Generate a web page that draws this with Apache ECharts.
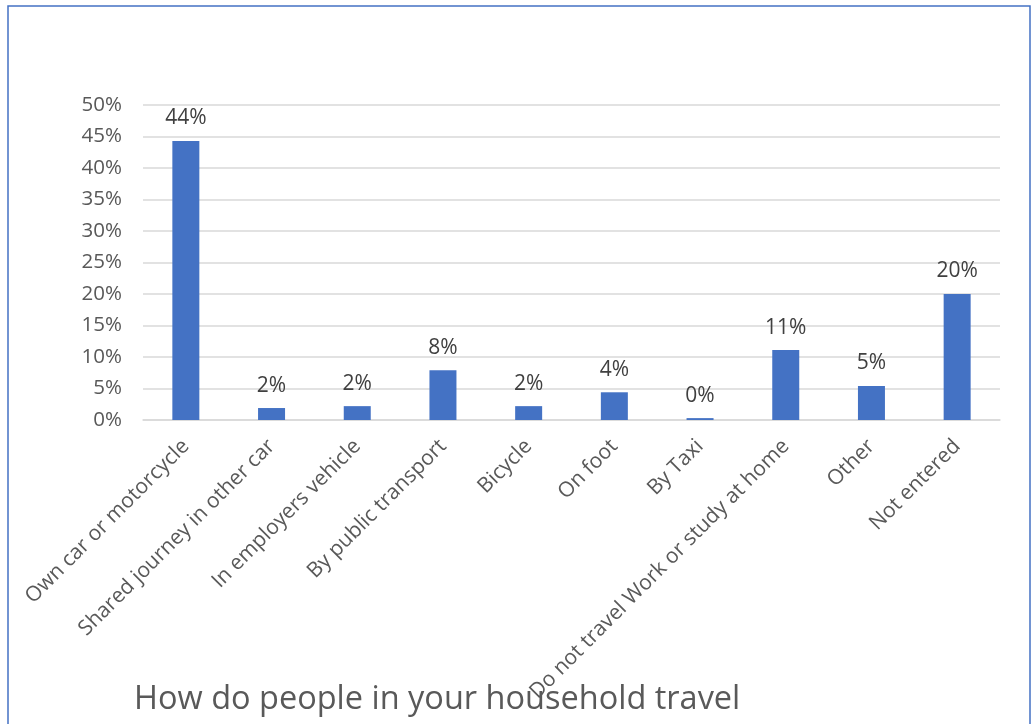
<!DOCTYPE html>
<html>
<head>
<meta charset="utf-8">
<script src="https://cdn.jsdelivr.net/npm/echarts@6/dist/echarts.min.js"></script>
<style>
html,body{margin:0;padding:0;background:#fff;}
#chart{width:1032px;height:724px;}
</style>
</head>
<body>
<div id="chart"></div>
<script>
const categories = ["Own car or motorcycle","Shared journey in other car","In employers vehicle","By public transport","Bicycle","On foot","By Taxi","Do not travel Work or study at home","Other","Not entered"];
const values = [44.3, 1.9, 2.2, 7.9, 2.2, 4.4, 0.3, 11.1, 5.4, 20.0];
const yTicks = [0, 5, 10, 15, 20, 25, 30, 35, 40, 45, 50];
const titleText = "How do people in your household travel";

const chart = echarts.init(document.getElementById('chart'), null, {renderer:'canvas'});
chart.setOption({
  animation:false,
  backgroundColor:'#fff',
  textStyle:{fontFamily:'Open Sans'},
  title:{
    text:titleText,
    left:129, top:678,
    textStyle:{fontFamily:'Open Sans', fontSize:32.5, fontWeight:'normal', color:'#595959'}
  },
  graphic:[{
    type:'rect', shape:{x:8, y:6, width:1022, height:730},
    style:{fill:'none', stroke:'#4472C4', lineWidth:1.5}, silent:true, z:-1
  }],
  grid:{left:143, right:32, top:105, bottom:304, containLabel:false},
  xAxis:{
    type:'category', data:categories,
    axisLine:{show:true, lineStyle:{color:'#d9d9d9', width:1.5}},
    axisTick:{show:false},
    axisLabel:{rotate:45, interval:0, fontSize:21, color:'#595959', fontFamily:'Open Sans', margin:23}
  },
  yAxis:{
    type:'value', min:yTicks[0], max:yTicks[yTicks.length-1], interval:5,
    axisLine:{show:false}, axisTick:{show:false},
    splitLine:{lineStyle:{color:'#d9d9d9', width:1.5}},
    axisLabel:{formatter:v=>v+'%', fontSize:20.5, color:'#595959', fontFamily:'Open Sans', margin:21}
  },
  series:[{
    type:'bar', data:values, barWidth:27,
    itemStyle:{color:'#4472C4'},
    label:{show:true, position:'top', distance:12, formatter:p=>Math.round(p.value)+'%', fontSize:21, color:'#404040', fontFamily:'Open Sans'}
  }]
});
</script>
</body>
</html>
